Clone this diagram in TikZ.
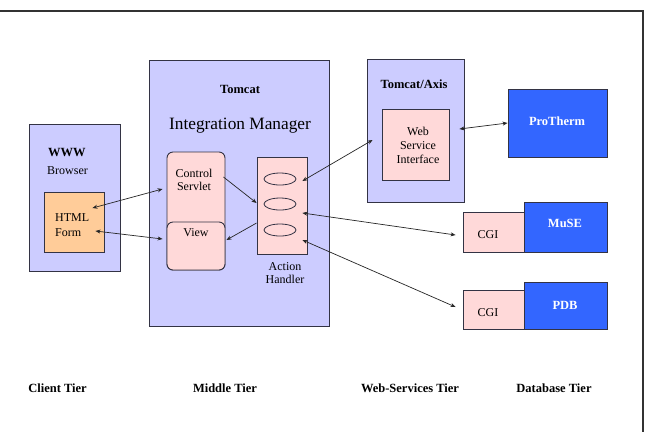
\documentclass[tikz,border=0pt]{standalone}
\usepackage{fontspec}
\setmainfont{Liberation Serif}
\newfontfamily\tnr{Liberation Serif}
\usetikzlibrary{arrows.meta,calc,shapes.geometric}
\definecolor{lav}{HTML}{CCCCFF}
\definecolor{pinkbox}{HTML}{FFD9D9}
\definecolor{orng}{HTML}{FFCC99}
\definecolor{dbblue}{HTML}{3366FF}
\definecolor{edge}{HTML}{333344}
\tikzset{
  box/.style={draw=edge, line width=0.9pt, inner sep=0pt},
  lavbox/.style={box, fill=lav},
  pbox/.style={box, fill=pinkbox},
  dbbox/.style={box, fill=dbblue},
  rbox/.style={box, fill=pinkbox, rounded corners=6pt},
  lbl/.style={font=\tnr\fontsize{12}{13}\selectfont, align=center, inner sep=0pt},
  blbl/.style={font=\tnr\fontsize{12.5}{14}\selectfont\bfseries, inner sep=0pt},
  dblbl/.style={blbl, text=white},
  conn/.style={line width=0.7pt, draw=black!85},
  tip/.style={-{Stealth[length=5pt,width=4pt]}},
  tips/.style={{Stealth[length=5pt,width=4pt]}-{Stealth[length=5pt,width=4pt]}},
  ell/.style={draw=edge, line width=0.8pt, ellipse, minimum width=32pt, minimum height=12pt, inner sep=0pt}
}
\begin{document}
\begin{tikzpicture}[x=1pt,y=-1pt]
\useasboundingbox (0,0) rectangle (647,432);
\fill[white] (0,0) rectangle (647,432);
% frame
\draw[line width=1.2pt, draw=black!80] (0,11) -- (643,11) -- (643,432);

% client tier
\node[lavbox, minimum width=91pt, minimum height=147pt] (browser) at (74.5,197.5) {};
\node[blbl, anchor=west] (www) at (48,152) {WWW};
\node[lbl, anchor=west] (brw) at (47,171) {Browser};
\node[box, fill=orng, minimum width=60pt, minimum height=60pt] (html) at (74,222) {};
\node[lbl, anchor=west, align=left, font=\tnr\fontsize{12}{15}\selectfont] (htmlt) at (55,225.5) {HTML\\Form};

% middle tier
\node[lavbox, minimum width=180pt, minimum height=266pt] (tomcat) at (239,193) {};
\node[blbl] (tomcatt) at (240,89) {Tomcat};
\node[font=\tnr\fontsize{17.3}{19}\selectfont, inner sep=0pt] (im) at (240,126) {Integration Manager};
\node[rbox, minimum width=58pt, minimum height=118pt] (cs) at (196,211) {};
\node[rbox, minimum width=58pt, minimum height=48pt] (view) at (196,246) {};
\node[lbl] (cst) at (194,179.5) {Control\\Servlet};
\node[lbl] (viewt) at (196,233) {View};
\node[pbox, minimum width=50pt, minimum height=97pt] (ah) at (282,205.5) {};
\node[ell] (e1) at (280,179) {};
\node[ell] (e2) at (280,204) {};
\node[ell] (e3) at (280,230) {};
\node[lbl, font=\tnr\fontsize{12}{12.5}\selectfont] (aht) at (285,273) {Action\\Handler};

% web services tier
\node[lavbox, minimum width=97pt, minimum height=143pt] (axis) at (415.5,130.5) {};
\node[blbl] (axist) at (414,84) {Tomcat/Axis};
\node[pbox, minimum width=67pt, minimum height=71pt] (wsi) at (415.5,144.5) {};
\node[lbl, font=\tnr\fontsize{12}{14}\selectfont] (wsit) at (418,145) {Web\\Service\\Interface};

% database tier
\node[dbbox, minimum width=99pt, minimum height=68pt] (pt) at (557.5,123) {};
\node[dblbl] (ptt) at (557,121) {ProTherm};
\node[pbox, minimum width=61pt, minimum height=40pt] (cgi1) at (493.5,232) {};
\node[dbbox, minimum width=83pt, minimum height=50pt] (muse) at (565.5,227) {};
\node[lbl] (cgi1t) at (488,235) {CGI};
\node[dblbl] (muset) at (565,223) {MuSE};
\node[pbox, minimum width=61pt, minimum height=39pt] (cgi2) at (493.5,309.5) {};
\node[dbbox, minimum width=83pt, minimum height=47pt] (pdb) at (565.5,305.5) {};
\node[lbl] (cgi2t) at (488,313) {CGI};
\node[dblbl] (pdbt) at (565,305) {PDB};

% connectors
\draw[conn, tips] ($(html.east)+(-12,-14)$) -- ($(cs.west)+(-4,-22)$);
\draw[conn, tips] ($(html.east)+(-9,9)$) -- ($(view.west)+(-4,-7)$);
\draw[conn, tip] ($(cs.east)+(-2,-34)$) -- ($(ah.west)+(0,-2.5)$);
\draw[conn, tip] ($(ah.west)+(0,17.5)$) -- ($(view.east)+(1,-6)$);
\draw[conn, tips] ($(e1.east)+(6,2)$) -- ($(wsi.west)+(-9,-4.5)$);
\draw[conn, tips] ($(e2.east)+(6,9)$) -- ($(cgi1.west)+(-7,3)$);
\draw[conn, tips] ($(e3.east)+(6,10)$) -- ($(cgi2.west)+(-7,-2.5)$);
\draw[conn, tips] ($(wsi.east)+(10,-15.5)$) -- (pt.west);

% tier labels
\node[blbl] (t1) at (57.5,388) {Client Tier};
\node[blbl] (t2) at (225,388) {Middle Tier};
\node[blbl] (t3) at (410,388) {Web-Services Tier};
\node[blbl] (t4) at (554,388) {Database Tier};
\end{tikzpicture}
\end{document}
